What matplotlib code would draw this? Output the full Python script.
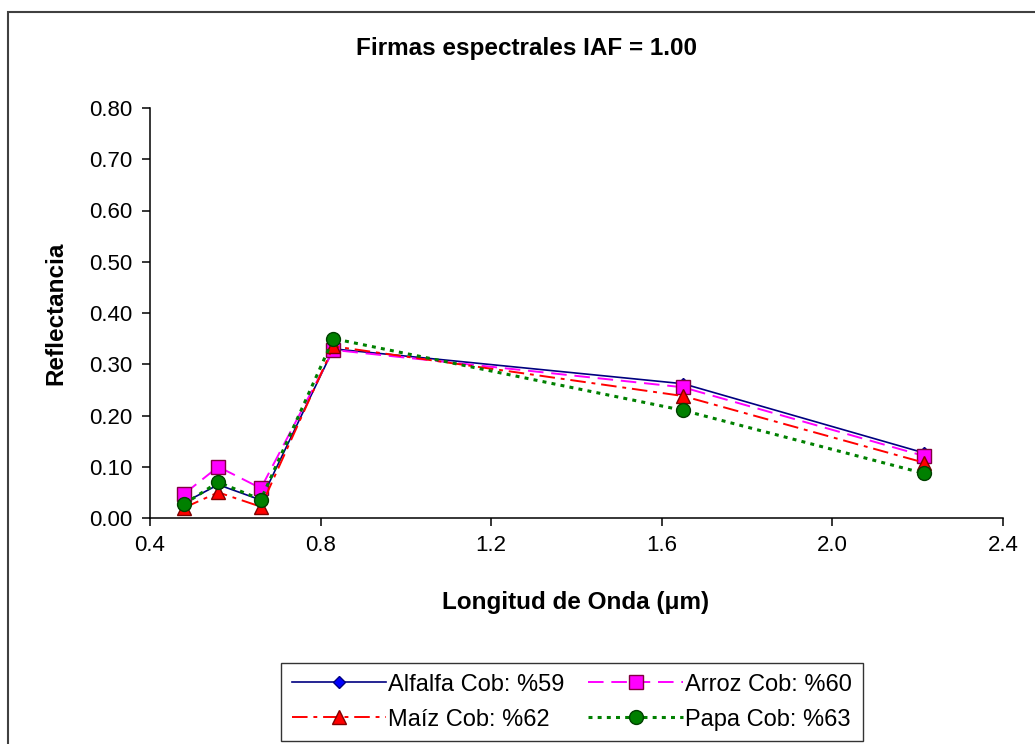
import numpy as np
import matplotlib
matplotlib.use("Agg")
import matplotlib.pyplot as plt
from matplotlib.patches import Rectangle

plt.rcParams['font.family'] = ['Liberation Sans', 'DejaVu Sans']

# Longitudes de onda (bandas) en micrometros
wavelength = [0.48, 0.56, 0.66, 0.83, 1.65, 2.215]

alfalfa = [0.030, 0.065, 0.035, 0.330, 0.262, 0.127]
arroz = [0.047, 0.100, 0.058, 0.328, 0.255, 0.121]
maiz = [0.020, 0.050, 0.022, 0.335, 0.238, 0.108]
papa = [0.027, 0.070, 0.036, 0.350, 0.210, 0.087]

labels = ["Alfalfa Cob: %59", "Arroz Cob: %60", "Maíz Cob: %62", "Papa Cob: %63"]

fig = plt.figure(figsize=(10.35, 7.44), dpi=100)
W, H = 1035, 744
ax = fig.add_axes([150 / W, 1 - 518 / H, (1003 - 150) / W, (518 - 108) / H])

l1, = ax.plot(wavelength, alfalfa, color="#000080", lw=1.2, ls="-",
              marker="D", ms=6, mfc="#0000FF", mec="#000080", label=labels[0])
l2, = ax.plot(wavelength, arroz, color="#FF00FF", lw=1.4, dashes=(8, 4),
              marker="s", ms=10.5, mfc="#FF00FF", mec="#800040", label=labels[1])
l3, = ax.plot(wavelength, maiz, color="#FF0000", lw=1.4, dashes=(8, 3, 2, 3),
              marker="^", ms=10, mfc="#FF0000", mec="#800000", label=labels[2])
l4, = ax.plot(wavelength, papa, color="#008000", lw=2.2, dashes=(1.3, 1.7),
              marker="o", ms=10, mfc="#008000", mec="#004000", label=labels[3])

ax.set_xlim(0.4, 2.4)
ax.set_ylim(0, 0.8)
ax.set_xticks(np.arange(0.4, 2.41, 0.4))
ax.set_yticks(np.arange(0, 0.81, 0.1))
ax.set_xticklabels([f"{t:.1f}" for t in np.arange(0.4, 2.41, 0.4)])
ax.set_yticklabels([f"{t:.2f}" for t in np.arange(0, 0.81, 0.1)])
ax.tick_params(direction="out", length=5.5, width=1.1, labelsize=16, pad=7)
for s in ["top", "right"]:
    ax.spines[s].set_visible(False)
for s in ["left", "bottom"]:
    ax.spines[s].set_linewidth(1.1)

fig.text(527 / W, 1 - 48 / H, "Firmas espectrales IAF = 1.00", ha="center",
         va="center", fontsize=17.5, fontweight="bold")
fig.text(576 / W, 1 - 602 / H, "Longitud de Onda (\u03bcm)", ha="center",
         va="center", fontsize=17.5, fontweight="bold")
fig.text(56 / W, 1 - 313 / H, "Reflectancia", ha="center", va="center",
         rotation=90, fontsize=17.5, fontweight="bold")

leg = fig.legend([l1, l3, l2, l4], [labels[0], labels[2], labels[1], labels[3]],
                 ncol=2, loc="upper left", bbox_to_anchor=(281 / W, 1 - 663 / H),
                 fontsize=17, frameon=True, fancybox=False, handlelength=4.0,
                 handletextpad=0.1, columnspacing=1.0, borderpad=0.45,
                 labelspacing=0.55, borderaxespad=0)
leg.get_frame().set_edgecolor("black")
leg.get_frame().set_linewidth(1.0)

fig.patches.append(Rectangle((8 / W, -0.1), 1.2, (H - 12) / H + 0.1,
                             transform=fig.transFigure, fill=False,
                             edgecolor="#404040", lw=1.5))

fig.savefig("out.png", dpi=100)
